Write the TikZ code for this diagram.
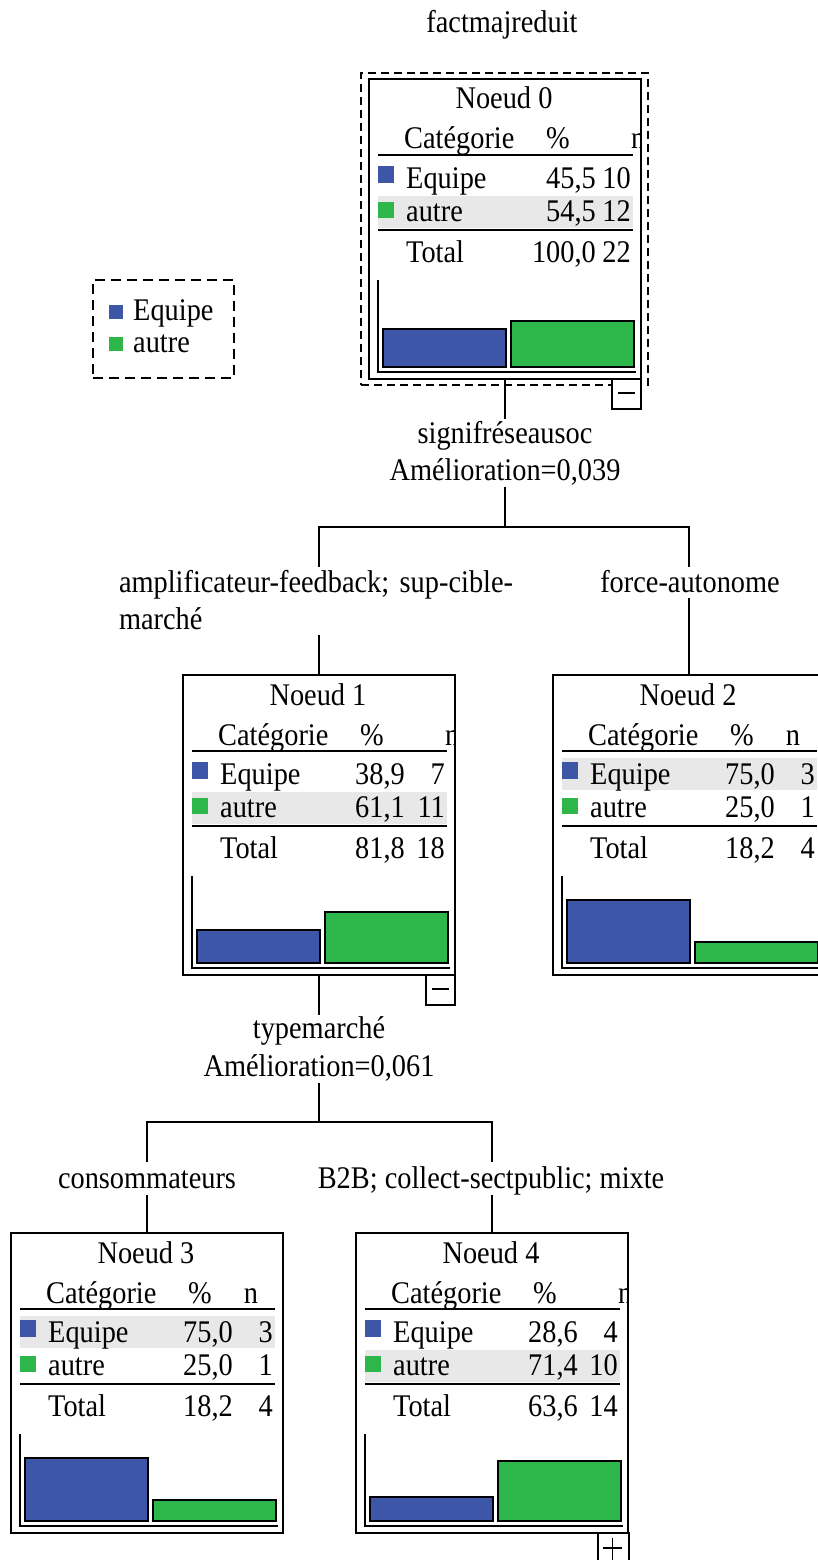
\documentclass[tikz,border=0pt]{standalone}
\usepackage{fontspec}
\setmainfont{Liberation Serif}[FakeStretch=0.9]
\definecolor{cblue}{RGB}{62,86,168}
\definecolor{cgreen}{RGB}{45,183,74}
\definecolor{cgray}{RGB}{232,232,232}
\tikzset{
  conn/.style={line width=1.8pt},
  txt/.style={inner sep=0pt, anchor=base, font=\fontsize{31.5}{36}\selectfont},
  txtl/.style={txt, anchor=base west},
  txtr/.style={txt, anchor=base east},
  boxnode/.style={draw, line width=2.2pt, minimum width=272pt, minimum height=300pt, anchor=north west, inner sep=0pt, outer sep=0pt},
  barbox/.style={draw, line width=1.8pt},
  rulel/.style={line width=1.7pt},
  togglebox/.style={draw, line width=1.8pt, fill=white, outer sep=0pt, inner sep=0pt},
}
% #1 name, #2 number, #3 gray row top (83 or 117), #4 n header: 1 = clipped right, 0 = centered
\newcommand{\NodeFrame}[4]{%
  \fill[cgray] (9,#3) rectangle (264,{#3+32});
  \node[boxnode] (#1) at (0,0) {};
  \node[txt] (#1t) at (135,30) {Noeud #2};
  \node[txtl] (#1c) at (35,70) {Catégorie};
  \node[txt] (#1p) at (189,70) {\%};
  \ifnum#4=1
    \begin{scope}\clip (0,0) rectangle (271,300);
    \node[txtl] (#1n) at (262,70) {n};
    \end{scope}
  \else
    \node[txt] (#1n) at (240,70) {n};
  \fi
  \draw[rulel] (9,76) -- (264,76);
  \draw[rulel] (9,151) -- (264,151);
  \fill[cblue] (9,87) rectangle (25,104);
  \fill[cgreen] (9,123) rectangle (25,139);
  \node[txtl] (#1e) at (37,109) {Equipe};
  \node[txtl] (#1a) at (37,142) {autre};
  \node[txtl] (#1s) at (37,183) {Total};
  \draw[rulel] (9,201) -- (9,293) -- (267,293);
}
% #1 pE #2 nE #3 pA #4 nA #5 pT #6 nT #7 pct right x
\newcommand{\NodeVals}[7]{%
  \node[txtr] at (#7,109) {#1};
  \node[txtr] at (262,109) {#2};
  \node[txtr] at (#7,142) {#3};
  \node[txtr] at (262,142) {#4};
  \node[txtr] at (#7,183) {#5};
  \node[txtr] at (262,183) {#6};
}
\newcommand{\NodeBars}[2]{%
  \draw[barbox, fill=cblue] (14,{288-0.84*#1}) rectangle (137,288);
  \draw[barbox, fill=cgreen] (142,{288-0.84*#2}) rectangle (265,288);
}
\begin{document}
\begin{tikzpicture}[x=1pt, y=-1pt]
\useasboundingbox (0,0) rectangle (817,1560);

\node[txt] (title) at (502,33) {factmajreduit};

% legend
\node[draw, dash pattern=on 10pt off 6pt, line width=1.8pt, minimum width=141pt, minimum height=98pt, anchor=north west, outer sep=0pt] (legend) at (93,280) {};
\fill[cblue] (109,305) rectangle (123,319);
\fill[cgreen] (109,337) rectangle (123,351);
\node[txtl] (legE) at (133,320) {Equipe};
\node[txtl] (legA) at (133,352) {autre};

% Node 0
\node[draw, dash pattern=on 8pt off 5pt, line width=1.8pt, minimum width=287pt, minimum height=312pt, anchor=north west, outer sep=0pt] (sel0) at (361,73) {};
\begin{scope}[shift={(369,79)}]
  \NodeFrame{n0}{0}{117}{1}
  \NodeVals{45,5}{10}{54,5}{12}{100,0}{22}{227}
  \NodeBars{45.5}{54.5}
  \node[togglebox, minimum width=29pt, minimum height=30pt, anchor=north west] (t0) at (243,300) {};
  \draw[line width=1.7pt] (249,314) -- (266,314);
\end{scope}

% Node 1
\begin{scope}[shift={(183,675)}]
  \NodeFrame{n1}{1}{117}{1}
  \NodeVals{38,9}{7}{61,1}{11}{81,8}{18}{222}
  \NodeBars{38.9}{61.1}
  \node[togglebox, minimum width=29pt, minimum height=30pt, anchor=north west] (t1) at (243,300) {};
  \draw[line width=1.7pt] (249,314) -- (266,314);
\end{scope}

% Node 2
\begin{scope}[shift={(553,675)}]
  \NodeFrame{n2}{2}{83}{0}
  \NodeVals{75,0}{3}{25,0}{1}{18,2}{4}{222}
  \NodeBars{75}{25}
\end{scope}

% Node 3
\begin{scope}[shift={(11,1233)}]
  \NodeFrame{n3}{3}{83}{0}
  \NodeVals{75,0}{3}{25,0}{1}{18,2}{4}{222}
  \NodeBars{75}{25}
\end{scope}

% Node 4
\begin{scope}[shift={(356,1233)}]
  \NodeFrame{n4}{4}{117}{1}
  \NodeVals{28,6}{4}{71,4}{10}{63,6}{14}{222}
  \NodeBars{28.6}{71.4}
  \node[togglebox, minimum width=31pt, minimum height=32pt, anchor=north west] (t4) at (242,300) {};
  \draw[line width=1.7pt] (247,315) -- (266,315);
  \draw[line width=1.7pt] (256.5,305) -- (256.5,327);
\end{scope}

% split labels
\node[txt] (s0a) at (505,443) {signifréseausoc};
\node[txt] (s0b) at (505,480) {Amélioration=0,039};
\node[txt, text width=400pt, align=left] (b1a) at (319,592) {amplificateur-feedback; sup-cible-};
\node[txt, text width=400pt, align=left] (b1b) at (319,629) {marché};
\node[txt] (b2) at (690,592) {force-autonome};
\node[txt] (s1a) at (319,1038) {typemarché};
\node[txt] (s1b) at (319,1076) {Amélioration=0,061};
\node[txt] (b3) at (147,1188) {consommateurs};
\node[txt] (b4) at (491,1188) {B2B; collect-sectpublic; mixte};

% connector points
\coordinate (c0a) at (505,419);
\coordinate (c0b) at (505,487);
\coordinate (j0) at (505,527);
\coordinate (c1a) at (319,567);
\coordinate (c2a) at (689,567);
\coordinate (c1b) at (319,635);
\coordinate (c2b) at (689,598);
\coordinate (c3) at (319,1015);
\coordinate (c4) at (319,1083);
\coordinate (j1) at (319,1122);
\coordinate (c5a) at (147,1162);
\coordinate (c6a) at (492,1162);
\coordinate (c5b) at (147,1195);
\coordinate (c6b) at (492,1195);

\draw[conn] (n0.south) -- (c0a);
\draw[conn] (c0b) -- (j0);
\draw[conn] (c1a) |- (j0) -| (c2a);
\draw[conn] (c1b) -- (n1.north);
\draw[conn] (c2b) -- (n2.north);
\draw[conn] (n1.south) -- (c3);
\draw[conn] (c4) -- (j1);
\draw[conn] (c5a) |- (j1) -| (c6a);
\draw[conn] (c5b) -- (n3.north);
\draw[conn] (c6b) -- (n4.north);
\end{tikzpicture}
\end{document}
